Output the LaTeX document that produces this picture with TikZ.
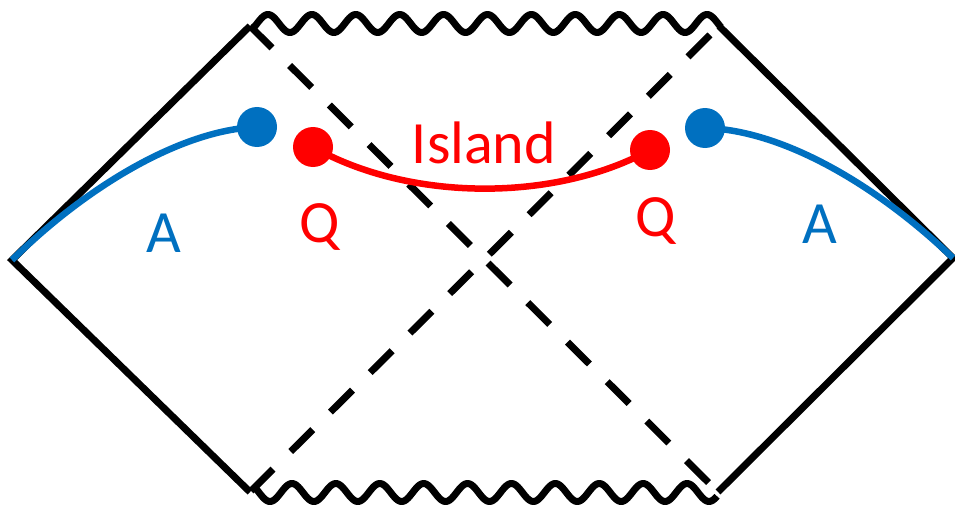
\documentclass[tikz,border=0pt]{standalone}
\usepackage{fontspec}
\setmainfont{Carlito}
\definecolor{qred}{RGB}{255,0,0}
\definecolor{ablue}{RGB}{0,112,192}
\begin{document}
\begin{tikzpicture}[x=1pt,y=-1pt,
  edge/.style={line width=7pt, line join=miter},
  dashline/.style={line width=7pt, dash pattern=on 31pt off 25pt},
  wave/.style={line width=7pt, line join=round},
  dot/.style={circle, inner sep=0pt, minimum size=40pt},
  lbl/.style={font=\fontsize{60}{60}\selectfont, anchor=base, inner sep=0pt},
  curveA/.style={ablue, line width=6.5pt},
  curveQ/.style={qred, line width=6.5pt}]
\useasboundingbox (0,0) rectangle (955,508);
% vertices
\coordinate (L) at (12,260);
\coordinate (LT) at (250,26);
\coordinate (LB) at (250,492);
\coordinate (R) at (953,258);
\coordinate (RT) at (719,26);
\coordinate (RB) at (718,492);
% diamond edges
\draw[edge] (LT) -- (L) -- (LB);
\draw[edge] (RT) -- (R) -- (RB);
% singularities
\draw[wave] plot[domain=254:721, samples=300, smooth] (\x, {23.5 - 9*cos(((\x-268)/43.9)*360)});
\draw[wave] plot[domain=255:717, samples=300, smooth] (\x, {492.5 + 9*cos(((\x-270)/43.9)*360)});
% horizons
\draw[dashline] (LT) -- (RB);
\draw[dashline, dash phase=43.3pt] (RT) -- (LB);
% points
\node[dot, fill=ablue] (AL) at (257,127) {};
\node[dot, fill=ablue] (AR) at (705,128) {};
\node[dot, fill=qred] (QL) at (313,147) {};
\node[dot, fill=qred] (QR) at (650,150) {};
% curves
\draw[curveA] (L) .. controls (85,188) and (180,130) .. (AL.center);
\draw[curveA] (R) .. controls (880,188) and (785,130) .. (AR.center);
\draw[curveQ] (QL.center) .. controls (410,202) and (555,202) .. (QR.center);
% labels
\node[lbl, text=qred] (island) at (484,163) {Island};
\node[lbl, text=qred] (qlab1) at (320,242) {Q};
\node[lbl, text=qred] (qlab2) at (656,236) {Q};
\node[lbl, text=ablue] (alab1) at (164,252) {A};
\node[lbl, text=ablue] (alab2) at (820,243) {A};
\end{tikzpicture}
\end{document}
